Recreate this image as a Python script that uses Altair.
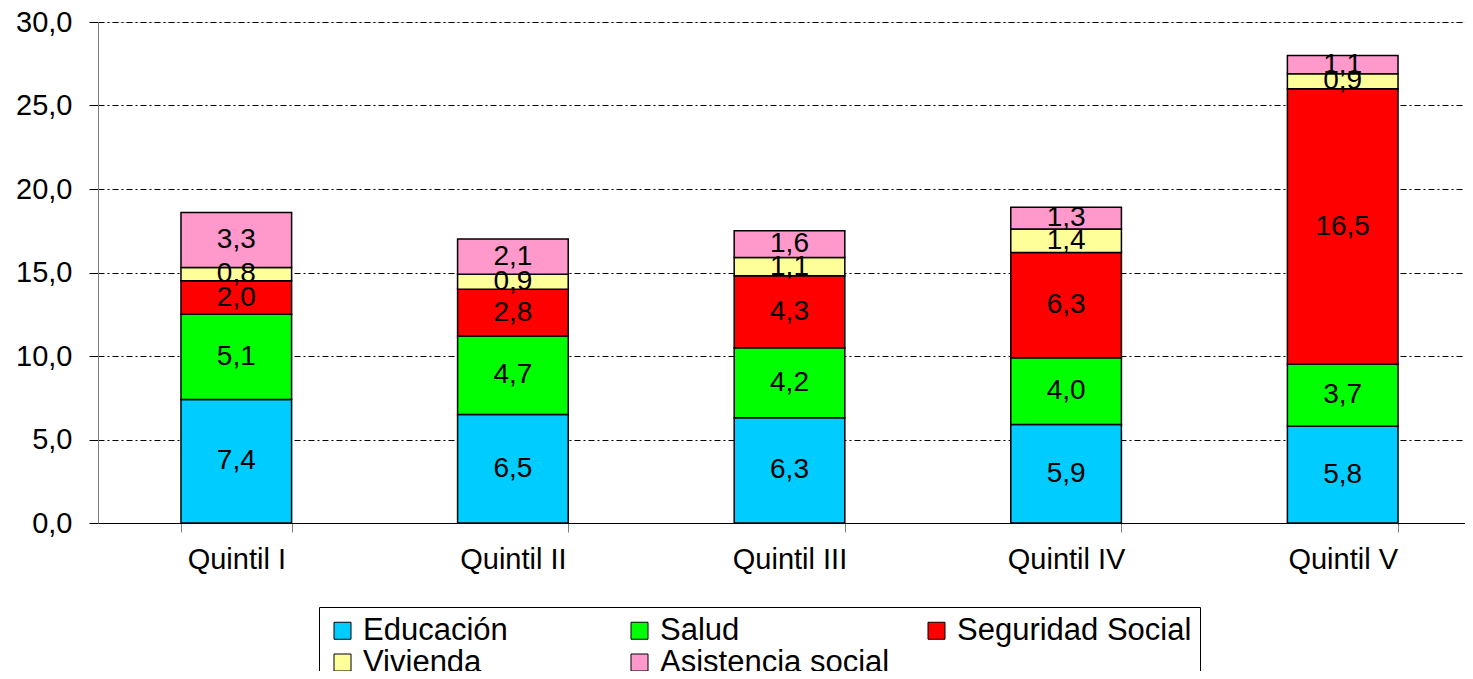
import altair as alt
import pandas as pd

categories = ["Quintil I", "Quintil II", "Quintil III", "Quintil IV", "Quintil V"]
series = ["Educación", "Salud", "Seguridad Social", "Vivienda", "Asistencia social"]
colors = ["#00CCFF", "#00FF00", "#FF0000", "#FFFF99", "#FF99CC"]

educacion = [7.4, 6.5, 6.3, 5.9, 5.8]
salud = [5.1, 4.7, 4.2, 4.0, 3.7]
seguridad = [2.0, 2.8, 4.3, 6.3, 16.5]
vivienda = [0.8, 0.9, 1.1, 1.4, 0.9]
asistencia = [3.3, 2.1, 1.6, 1.3, 1.1]

y_ticks = [0, 5, 10, 15, 20, 25, 30]

rows = []
for idx, (name, vals) in enumerate(zip(series, [educacion, salud, seguridad, vivienda, asistencia])):
    for cat, v in zip(categories, vals):
        rows.append({"cat": cat, "serie": name, "idx": idx, "value": v,
                     "label": f"{v:.1f}".replace(".", ",")})
df = pd.DataFrame(rows)

FONT = "Liberation Sans"

x_enc = alt.X(
    "cat:N", sort=categories, title=None,
    scale=alt.Scale(range=[0, 1383], paddingInner=0.6, paddingOuter=0.3),
    axis=alt.Axis(labelAngle=0, labelFontSize=29, labelFont=FONT, labelColor="black",
                  labelPadding=13, tickSize=9, tickColor="#808080", domainColor="black",
                  tickBand="extent", grid=False),
)

base = alt.Chart(df)

bars = base.mark_bar(stroke="black", strokeWidth=1.5).encode(
    x=x_enc,
    y=alt.Y("value:Q", stack="zero", title=None,
            scale=alt.Scale(domain=[0, 30], nice=False),
            axis=alt.Axis(values=y_ticks, labelFontSize=29, labelFont=FONT, labelColor="black",
                          labelPadding=17, tickSize=9, tickColor="black", domainColor="#808080",
                          gridColor="black", gridDash=[6, 3, 2, 3], gridWidth=1,
                          labelExpr="replace(format(datum.value, '.1f'), '.', ',')")),
    color=alt.Color("serie:N", sort=series,
                    scale=alt.Scale(domain=series, range=colors),
                    legend=alt.Legend(title=None, orient="none", legendX=221, legendY=585,
                                      columns=3, direction="horizontal", gridAlign="all",
                                      columnPadding=26, rowPadding=0,
                                      symbolType="square", symbolSize=289,
                                      symbolStrokeColor="black", symbolStrokeWidth=1,
                                      labelFontSize=31, labelFont=FONT, labelColor="black",
                                      labelOffset=5, labelLimit=400,
                                      strokeColor="black", fillColor="white", padding=8)),
    order=alt.Order("idx:Q"),
)

texts = base.transform_stack(
    stack="value", groupby=["cat"], sort=[alt.SortField("idx")], as_=["y0", "y1"]
).transform_calculate(
    mid="(datum.y0 + datum.y1) / 2"
).mark_text(fontSize=28, font=FONT, color="black", baseline="middle", align="center").encode(
    x=alt.X("cat:N", sort=categories),
    y=alt.Y("mid:Q"),
    text="label:N",
)

chart = alt.layer(bars, texts).properties(
    width=1367, height=501,
    autosize=alt.AutoSizeParams(type="none"),
    padding={"left": 90, "top": 14, "right": 0, "bottom": 148},
).configure_view(strokeWidth=0).configure(font=FONT)

chart.save("out.html", embed_options={"renderer": "svg", "actions": False})
